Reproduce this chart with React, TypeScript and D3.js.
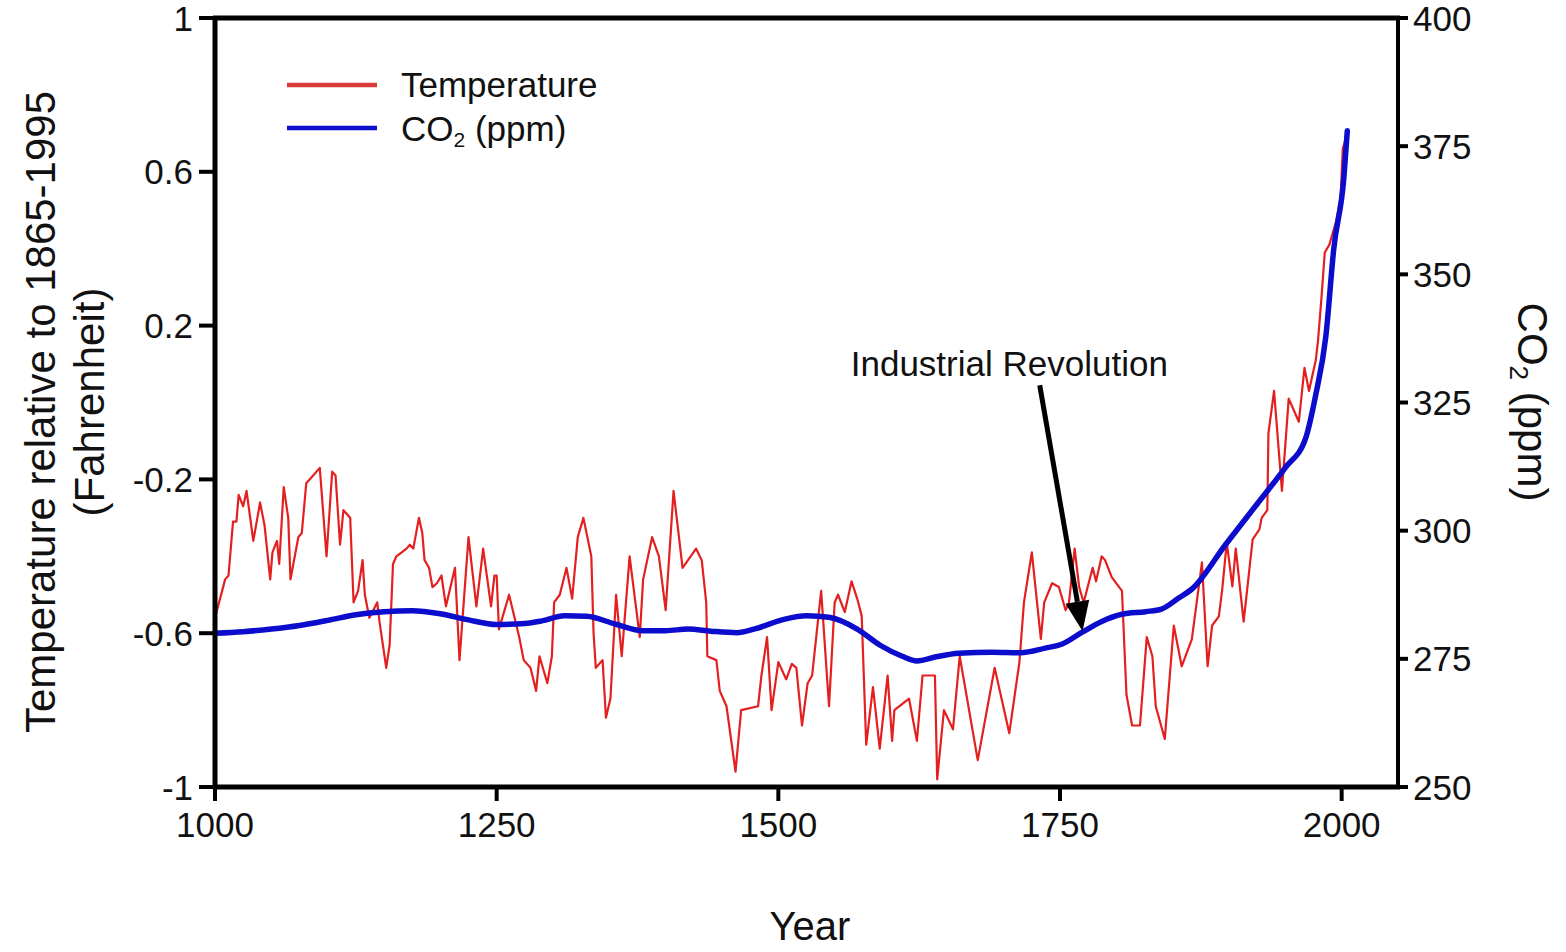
import React from "react";
import * as d3 from "d3";

const tempYears = [
  1000, 1009, 1012, 1016, 1019, 1021, 1025, 1028, 1034, 1040, 1044, 1049, 1051, 1055, 1057, 1061, 1065, 1067, 1074, 1077,
  1081, 1084, 1093, 1099, 1104, 1107, 1111, 1114, 1120, 1123, 1127, 1131, 1133, 1137, 1144, 1146, 1152, 1155, 1158, 1161,
  1170, 1173, 1176, 1181, 1184, 1186, 1190, 1193, 1197, 1201, 1205, 1213, 1217, 1225, 1232, 1238, 1245, 1248, 1250, 1252,
  1261, 1270, 1274, 1280, 1285, 1288, 1295, 1299, 1301, 1306, 1312, 1317, 1322, 1327, 1334, 1336, 1338, 1344, 1347, 1351,
  1356, 1361, 1368, 1377, 1380, 1388, 1394, 1400, 1407, 1415, 1427, 1432, 1436, 1437, 1445, 1448, 1454, 1462, 1467, 1482,
  1485, 1490, 1494, 1500, 1507, 1512, 1516, 1521, 1526, 1530, 1538, 1545, 1550, 1553, 1559, 1565, 1570, 1574, 1578, 1584,
  1590, 1597, 1601, 1603, 1616, 1623, 1628, 1639, 1641, 1647, 1655, 1661, 1677, 1692, 1705, 1714, 1718, 1725, 1733, 1736,
  1743, 1749, 1755, 1758, 1763, 1767, 1771, 1779, 1782, 1787, 1790, 1796, 1805, 1809, 1814, 1821, 1827, 1832, 1835, 1843,
  1851, 1858, 1867, 1876, 1881, 1885, 1891, 1894, 1898, 1903, 1906, 1913, 1921, 1927, 1929, 1934, 1935, 1940, 1947, 1953,
  1962, 1967, 1971, 1977, 1979, 1982, 1985, 1989, 1995, 1999, 2001, 2005,
];

const tempValues = [
  -0.56, -0.46, -0.45, -0.31, -0.31, -0.24, -0.27, -0.23, -0.36, -0.26, -0.32, -0.46, -0.39, -0.36, -0.42, -0.22, -0.3, -0.46, -0.35, -0.34,
  -0.21, -0.2, -0.17, -0.4, -0.18, -0.19, -0.37, -0.28, -0.3, -0.52, -0.49, -0.41, -0.5, -0.56, -0.52, -0.57, -0.69, -0.63, -0.42, -0.4,
  -0.38, -0.37, -0.38, -0.3, -0.34, -0.41, -0.43, -0.48, -0.47, -0.45, -0.53, -0.43, -0.67, -0.35, -0.53, -0.38, -0.53, -0.45, -0.45, -0.59,
  -0.5, -0.61, -0.67, -0.69, -0.75, -0.66, -0.73, -0.66, -0.52, -0.5, -0.43, -0.51, -0.35, -0.3, -0.4, -0.6, -0.69, -0.67, -0.82, -0.77,
  -0.5, -0.66, -0.4, -0.61, -0.46, -0.35, -0.4, -0.54, -0.23, -0.43, -0.38, -0.41, -0.52, -0.66, -0.67, -0.75, -0.79, -0.96, -0.8, -0.79,
  -0.71, -0.61, -0.8, -0.675, -0.72, -0.68, -0.69, -0.84, -0.73, -0.71, -0.49, -0.79, -0.52, -0.5, -0.545, -0.465, -0.51, -0.555, -0.89, -0.74,
  -0.9, -0.71, -0.88, -0.8, -0.77, -0.88, -0.71, -0.71, -0.98, -0.8, -0.85, -0.66, -0.93, -0.69, -0.86, -0.675, -0.52, -0.39, -0.615, -0.52,
  -0.47, -0.48, -0.54, -0.52, -0.38, -0.48, -0.52, -0.43, -0.465, -0.4, -0.41, -0.455, -0.49, -0.76, -0.84, -0.84, -0.61, -0.66, -0.79, -0.875,
  -0.58, -0.686, -0.616, -0.416, -0.686, -0.58, -0.556, -0.486, -0.364, -0.478, -0.38, -0.57, -0.356, -0.33, -0.3, -0.28, -0.08, 0.03, -0.23, 0.01,
  -0.05, 0.09, 0.03, 0.11, 0.16, 0.27, 0.39, 0.41, 0.47, 0.53, 0.66, 0.7,
];

const co2Years = [
  1000, 1025, 1050, 1075, 1100, 1125, 1150, 1175, 1200, 1225, 1250, 1275, 1290, 1310, 1330, 1355, 1380, 1400, 1420, 1440,
  1463, 1480, 1505, 1525, 1545, 1570, 1590, 1610, 1623, 1640, 1660, 1690, 1715, 1737, 1752, 1769, 1787, 1805, 1826, 1840,
  1855, 1868, 1897, 1926, 1950, 1968, 1977, 1986, 1993, 2002, 2005,
];

const co2Values = [
  280, 280.3, 280.8, 281.5, 282.5, 283.6, 284.2, 284.4, 283.8, 282.6, 281.7, 281.9, 282.4, 283.4, 283.3, 281.8, 280.5, 280.5, 280.8, 280.4,
  280.1, 280.9, 282.7, 283.4, 283.1, 280.8, 277.7, 275.5, 274.6, 275.4, 276.1, 276.3, 276.2, 277.1, 277.9, 280.1, 282.3, 283.7, 284.2, 284.7,
  286.8, 288.8, 297.3, 305.5, 312.3, 318.0, 326.5, 338, 355, 369, 378,
];

const xTicks = [1000, 1250, 1500, 1750, 2000];
const tempTicks = [1, 0.6, 0.2, -0.2, -0.6, -1];
const tempTickLabels = ["1", "0.6", "0.2", "-0.2", "-0.6", "-1"];
const co2Ticks = [400, 375, 350, 325, 300, 275, 250];

const annotationText = "Industrial Revolution";
const annotationTextPos = [1705, 0.07];
const annotationFrom = [1732, 0.045];
const annotationTip = [1770, -0.595];

const FONT = "'Liberation Sans', Arial, Helvetica, sans-serif";

export default function App() {
  const W = 1566;
  const H = 952;
  const left = 215;
  const right = 1398;
  const top = 18;
  const bottom = 787;

  const x = d3.scaleLinear().domain([1000, 2050]).range([left, right]);
  const yT = d3.scaleLinear().domain([-1, 1]).range([bottom, top]);
  const yC = d3.scaleLinear().domain([250, 400]).range([bottom, top]);

  const tempData = tempYears.map((yr, i) => [yr, tempValues[i]] as [number, number]);
  const co2Data = co2Years.map((yr, i) => [yr, co2Values[i]] as [number, number]);

  const tempLine = d3
    .line<[number, number]>()
    .x((d) => x(d[0]))
    .y((d) => yT(d[1]))
    .curve(d3.curveLinear)(tempData) as string;

  const co2Line = d3
    .line<[number, number]>()
    .x((d) => x(d[0]))
    .y((d) => yC(d[1]))
    .curve(d3.curveMonotoneX)(co2Data) as string;

  // arrow geometry
  const ax0 = x(annotationFrom[0]);
  const ay0 = yT(annotationFrom[1]);
  const ax1 = x(annotationTip[0]);
  const ay1 = yT(annotationTip[1]);
  const ang = Math.atan2(ay1 - ay0, ax1 - ax0);
  const headLen = 30;
  const headHalf = 12;
  const bx = ax1 - headLen * Math.cos(ang);
  const by = ay1 - headLen * Math.sin(ang);
  const px = -Math.sin(ang);
  const py = Math.cos(ang);
  const head = `M${ax1},${ay1} L${bx + headHalf * px},${by + headHalf * py} L${bx - headHalf * px},${by - headHalf * py} Z`;

  return (
    <svg
      width={W}
      height={H}
      style={{ position: "absolute", left: 0, top: 0, background: "#fff" }}
      fontFamily={FONT}
    >
      <rect x={0} y={0} width={W} height={H} fill="#fff" />

      {/* data */}
      <path d={tempLine} fill="none" stroke="#e3201f" strokeWidth={2.2} strokeLinejoin="round" />
      <path d={co2Line} fill="none" stroke="#0c0ccc" strokeWidth={5.5} strokeLinecap="round" strokeLinejoin="round" />

      {/* annotation */}
      <line x1={ax0} y1={ay0} x2={bx} y2={by} stroke="#000" strokeWidth={5} />
      <path d={head} fill="#000" />
      <text
        x={x(annotationTextPos[0])}
        y={yT(annotationTextPos[1])}
        textAnchor="middle"
        fontSize={35}
        fill="#111"
      >
        {annotationText}
      </text>

      {/* frame */}
      <line x1={left - 2} y1={top} x2={right + 2} y2={top} stroke="#000" strokeWidth={5} />
      <line x1={left} y1={top - 2} x2={left} y2={bottom + 2} stroke="#000" strokeWidth={5} />
      <line x1={left - 2} y1={bottom} x2={right + 2} y2={bottom} stroke="#000" strokeWidth={5} />
      <line x1={right} y1={top - 2} x2={right} y2={bottom + 2} stroke="#000" strokeWidth={4} />

      {/* x ticks */}
      {xTicks.map((t) => (
        <g key={"x" + t}>
          <line x1={x(t)} y1={bottom} x2={x(t)} y2={bottom + 14} stroke="#000" strokeWidth={4} />
          <text x={x(t)} y={bottom + 50} textAnchor="middle" fontSize={35} fill="#111">
            {t}
          </text>
        </g>
      ))}

      {/* left ticks */}
      {tempTicks.map((t, i) => (
        <g key={"t" + t}>
          <line x1={left - 16} y1={yT(t)} x2={left} y2={yT(t)} stroke="#000" strokeWidth={4} />
          <text x={left - 22} y={yT(t)} dy="0.36em" textAnchor="end" fontSize={35} fill="#111">
            {tempTickLabels[i]}
          </text>
        </g>
      ))}

      {/* right ticks */}
      {co2Ticks.map((t) => (
        <g key={"c" + t}>
          <line x1={right} y1={yC(t)} x2={right + 10} y2={yC(t)} stroke="#000" strokeWidth={4} />
          <text x={right + 15} y={yC(t)} dy="0.36em" textAnchor="start" fontSize={35} fill="#111">
            {t}
          </text>
        </g>
      ))}

      {/* axis titles */}
      <text x={810} y={940} textAnchor="middle" fontSize={40} fill="#111">
        Year
      </text>
      <text transform="translate(55,412) rotate(-90)" textAnchor="middle" fontSize={42} fill="#111">
        Temperature relative to 1865-1995
      </text>
      <text transform="translate(104,402) rotate(-90)" textAnchor="middle" fontSize={42} fill="#111">
        (Fahrenheit)
      </text>
      <text transform="translate(1518,402) rotate(90)" textAnchor="middle" fontSize={42} fill="#111">
        <tspan>CO</tspan>
        <tspan fontSize={26} dy={8}>2</tspan>
        <tspan dy={-8}> (ppm)</tspan>
      </text>

      {/* legend */}
      <line x1={287} y1={85} x2={377} y2={85} stroke="#d93a3a" strokeWidth={4.5} />
      <line x1={287} y1={128} x2={377} y2={128} stroke="#0c0ccc" strokeWidth={4.5} />
      <text x={401} y={97} fontSize={35} fill="#111">Temperature</text>
      <text x={401} y={141} fontSize={35} fill="#111">
        <tspan>CO</tspan>
        <tspan fontSize={21} dy={6}>2</tspan>
        <tspan dy={-6}> (ppm)</tspan>
      </text>
    </svg>
  );
}
